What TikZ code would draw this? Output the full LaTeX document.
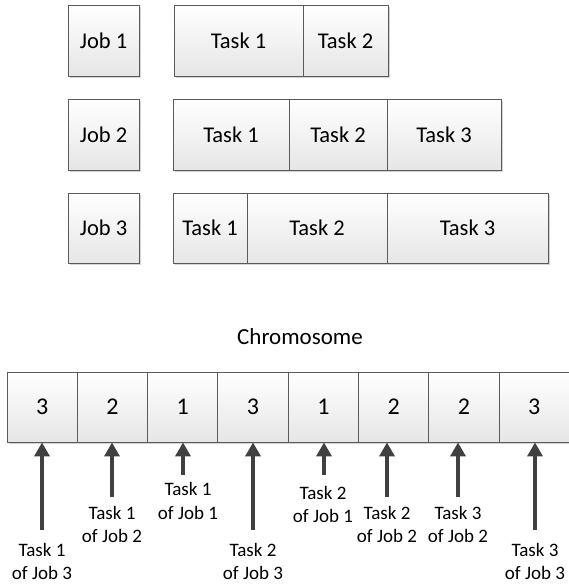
\documentclass[tikz,border=0pt]{standalone}
\usepackage{fontspec}
\setmainfont{Carlito}
\usetikzlibrary{arrows.meta,shadows}
\definecolor{edge}{HTML}{5A5A5A}
\definecolor{arrowgray}{HTML}{404040}
\definecolor{shade}{HTML}{E6E6E6}
\definecolor{shadowgray}{HTML}{D4D4D4}
\begin{document}
\begin{tikzpicture}[x=1pt,y=-1pt,
  cell/.style={draw=edge, line width=0.9pt, top color=white, bottom color=shade,
    inner sep=0pt, font=\fontsize{22.5}{27}\selectfont,
    general shadow={shadow xshift=2pt, shadow yshift=-2pt, fill=shadowgray}},
  gene/.style={cell, minimum width=70.3pt, minimum height=70pt,
    font=\fontsize{24}{28}\selectfont},
  pointer/.style={draw=arrowgray, line width=3.6pt,
    -{Triangle[width=15pt,length=14pt]}},
  caption/.style={align=center, inner sep=0pt,
    font=\fontsize{19}{23.5}\selectfont}]
\useasboundingbox (0,0) rectangle (568,584);

% helper: box from left/top to right/bottom
\newcommand{\cellbox}[6]{%
  \node[cell, minimum width={#4-#2}, minimum height={#5-#3}]
    (#1) at ({(#2+#4)/2},{(#3+#5)/2}) {#6};}

% jobs
\cellbox{j1}{68}{5}{139}{76}{Job 1}
\cellbox{j2}{68}{99}{139}{170}{Job 2}
\cellbox{j3}{68}{193}{139}{263}{Job 3}

% tasks of job 1
\cellbox{a1}{174}{5}{303}{76}{Task 1}
\cellbox{a2}{303}{5}{388}{76}{Task 2}
% tasks of job 2
\cellbox{b1}{173}{99}{289}{170}{Task 1}
\cellbox{b2}{289}{99}{387}{170}{Task 2}
\cellbox{b3}{387}{99}{501}{170}{Task 3}
% tasks of job 3
\cellbox{c1}{173}{193}{247}{263}{Task 1}
\cellbox{c2}{247}{193}{387}{263}{Task 2}
\cellbox{c3}{387}{193}{548}{263}{Task 3}

% chromosome
\node[font=\fontsize{23}{27}\selectfont, inner sep=0pt] (title) at (300,337) {Chromosome};
\foreach \v [count=\i] in {3,2,1,3,1,2,2,3}{
  \node[gene] (g\i) at ({7+70.3*(\i-0.5)},407) {\v};
}

% pointers and their captions
\coordinate (t1) at (42,530);
\coordinate (t2) at (112,497);
\coordinate (t3) at (183,475);
\coordinate (t4) at (253,530);
\coordinate (t5) at (324,475);
\coordinate (t6) at (387,497);
\coordinate (t7) at (458,497);
\coordinate (t8) at (535,530);
\foreach \i in {1,...,8}{
  \draw[pointer] (t\i) -- (t\i |- g\i.south);
}

\node[caption] (l1) at (42,561.5) {Task 1\\of Job 3};
\node[caption] (l2) at (112,524.5) {Task 1\\of Job 2};
\node[caption] (l3) at (188,501) {Task 1\\of Job 1};
\node[caption] (l4) at (253,561.5) {Task 2\\of Job 3};
\node[caption] (l5) at (323,504.5) {Task 2\\of Job 1};
\node[caption] (l6) at (387,524.5) {Task 2\\of Job 2};
\node[caption] (l7) at (458,524.5) {Task 3\\of Job 2};
\node[caption] (l8) at (535,561.5) {Task 3\\of Job 3};
\end{tikzpicture}
\end{document}
